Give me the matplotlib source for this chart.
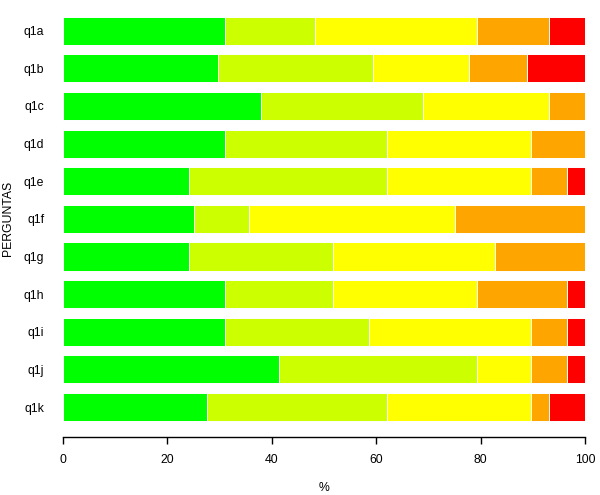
import numpy as np
import matplotlib
matplotlib.use("Agg")
import matplotlib.pyplot as plt

plt.rcParams["font.family"] = ["Liberation Sans", "DejaVu Sans"]

perguntas = ["q1a", "q1b", "q1c", "q1d", "q1e", "q1f", "q1g", "q1h", "q1i", "q1j", "q1k"]

# percentagens por nivel de resposta (verde -> vermelho)
nivel1 = [31.0, 29.6, 38.0, 31.1, 24.1, 25.0, 24.1, 31.0, 31.0, 41.4, 27.6]
nivel2 = [17.3, 29.7, 31.0, 31.0, 38.0, 10.7, 27.6, 20.7, 27.6, 38.0, 34.5]
nivel3 = [31.0, 18.5, 24.1, 27.6, 27.6, 39.3, 31.1, 27.6, 31.1, 10.3, 27.6]
nivel4 = [13.8, 11.1, 6.9, 10.3, 6.9, 25.0, 17.2, 17.3, 6.9, 6.9, 3.4]
nivel5 = [6.9, 11.1, 0.0, 0.0, 3.4, 0.0, 0.0, 3.4, 3.4, 3.4, 6.9]

cores = ["#00FF00", "#CCFF00", "#FFFF00", "#FFA500", "#FF0000"]

fig = plt.figure(figsize=(6, 4.95), dpi=100)
ax = fig.add_axes([63 / 600, 1 - 437.3 / 495, 522 / 600, 437.3 / 495])

ypos = np.arange(len(perguntas))[::-1]
base = np.zeros(len(perguntas))
for vals, c in zip([nivel1, nivel2, nivel3, nivel4, nivel5], cores):
    vals = np.array(vals)
    ax.barh(ypos, vals, left=base, height=0.745, color=c,
            edgecolor="white", linewidth=0.7)
    base += vals

ax.set_xlim(0, 100)
ax.set_ylim(-0.805, 10.816)
ax.set_yticks(ypos)
ax.set_yticklabels(perguntas)
ax.set_xticks([0, 20, 40, 60, 80, 100])

for s in ["top", "right", "left"]:
    ax.spines[s].set_visible(False)
ax.spines["bottom"].set_linewidth(1.0)
ax.tick_params(axis="y", length=0, pad=13.5, labelsize=8.8)
ax.tick_params(axis="x", length=5.2, width=1.0, pad=7, labelsize=8.8)

ax.set_xlabel("%", fontsize=8.8, va="center")
ax.xaxis.set_label_coords(0.5, -51 / 437.3)
ax.set_ylabel("PERGUNTAS", fontsize=8.8, va="center")
ax.yaxis.set_label_coords((8.3 - 63) / 522, 0.5)

fig.savefig("out.png", dpi=100)
